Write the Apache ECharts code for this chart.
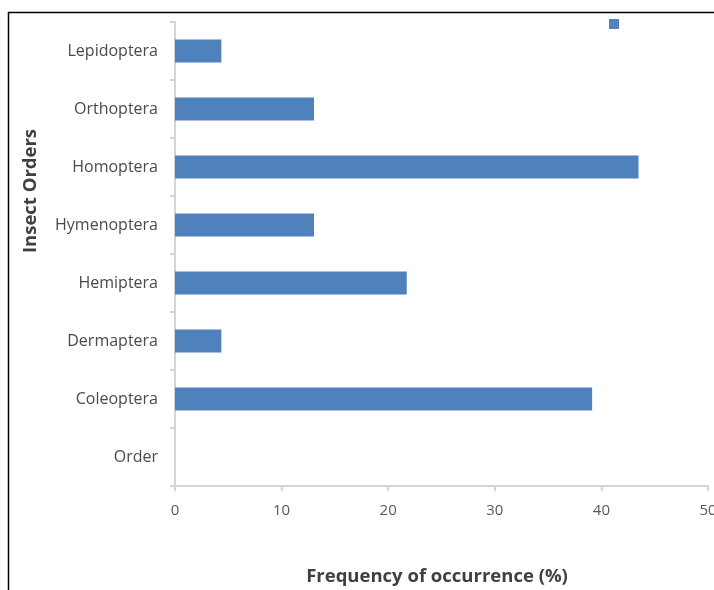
<!DOCTYPE html>
<html>
<head>
<meta charset="utf-8">
<script src="https://cdn.jsdelivr.net/npm/echarts@6/dist/echarts.min.js"></script>
<style>
  html, body { margin: 0; padding: 0; background: #fff; }
  #chart { width: 714px; height: 590px; }
</style>
</head>
<body>
<div id="chart"></div>
<script>
// Insect orders, bottom to top
const orders = ['Order', 'Coleoptera', 'Dermaptera', 'Hemiptera', 'Hymenoptera', 'Homoptera', 'Orthoptera', 'Lepidoptera'];
// Frequency of occurrence (%) for each order
const frequency = [null, 39.13, 4.35, 21.74, 13.04, 43.48, 13.04, 4.35];
const xTicks = [0, 10, 20, 30, 40, 50];

const labelFont = '"Open Sans", "Noto Sans", sans-serif';
const chart = echarts.init(document.getElementById('chart'));

chart.setOption({
  animation: false,
  backgroundColor: '#ffffff',
  grid: { left: 175, right: 6, top: 22, bottom: 104, containLabel: false, outerBoundsMode: 'none' },
  legend: {
    show: true,
    right: 90,
    top: 14,
    itemWidth: 10,
    itemHeight: 10,
    itemGap: 0,
    formatter: () => '',
    data: [{ name: 'Frequency', icon: 'rect' }]
  },
  xAxis: {
    type: 'value',
    min: xTicks[0],
    max: xTicks[xTicks.length - 1],
    interval: 10,
    axisLine: { show: true, lineStyle: { color: '#d4d4d4', width: 2 } },
    axisTick: { show: true, length: 5, lineStyle: { color: '#d4d4d4', width: 2 } },
    splitLine: { show: false },
    axisLabel: { color: '#595959', fontSize: 15, fontFamily: labelFont, margin: 17 }
  },
  yAxis: {
    type: 'category',
    data: orders,
    axisLine: { show: true, lineStyle: { color: '#d4d4d4', width: 2 } },
    axisTick: { show: true, length: 5, alignWithLabel: false, lineStyle: { color: '#d4d4d4', width: 2 } },
    axisLabel: { color: '#4a4a4a', fontSize: 16, fontFamily: labelFont, margin: 17, padding: [4, 0, 0, 0] }
  },
  series: [{
    name: 'Frequency',
    type: 'bar',
    data: frequency,
    barWidth: 23,
    itemStyle: { color: '#4f81bd' }
  }],
  graphic: [
    // frame lines along the top and left edges
    { type: 'line', shape: { x1: 8, y1: 12.5, x2: 714, y2: 12.5 }, style: { stroke: '#000', lineWidth: 1.5 } },
    { type: 'line', shape: { x1: 8.5, y1: 12, x2: 8.5, y2: 590 }, style: { stroke: '#000', lineWidth: 1.5 } },
    {
      type: 'text', x: 437, y: 577,
      style: { text: 'Frequency of occurrence (%)', font: 'bold 18.5px "Open Sans", sans-serif', fill: '#404040', align: 'center', verticalAlign: 'middle' }
    },
    {
      type: 'text', x: 31, y: 191, rotation: Math.PI / 2,
      style: { text: 'Insect Orders', font: 'bold 18.5px "Open Sans", sans-serif', fill: '#404040', align: 'center', verticalAlign: 'middle' }
    }
  ]
});
</script>
</body>
</html>
